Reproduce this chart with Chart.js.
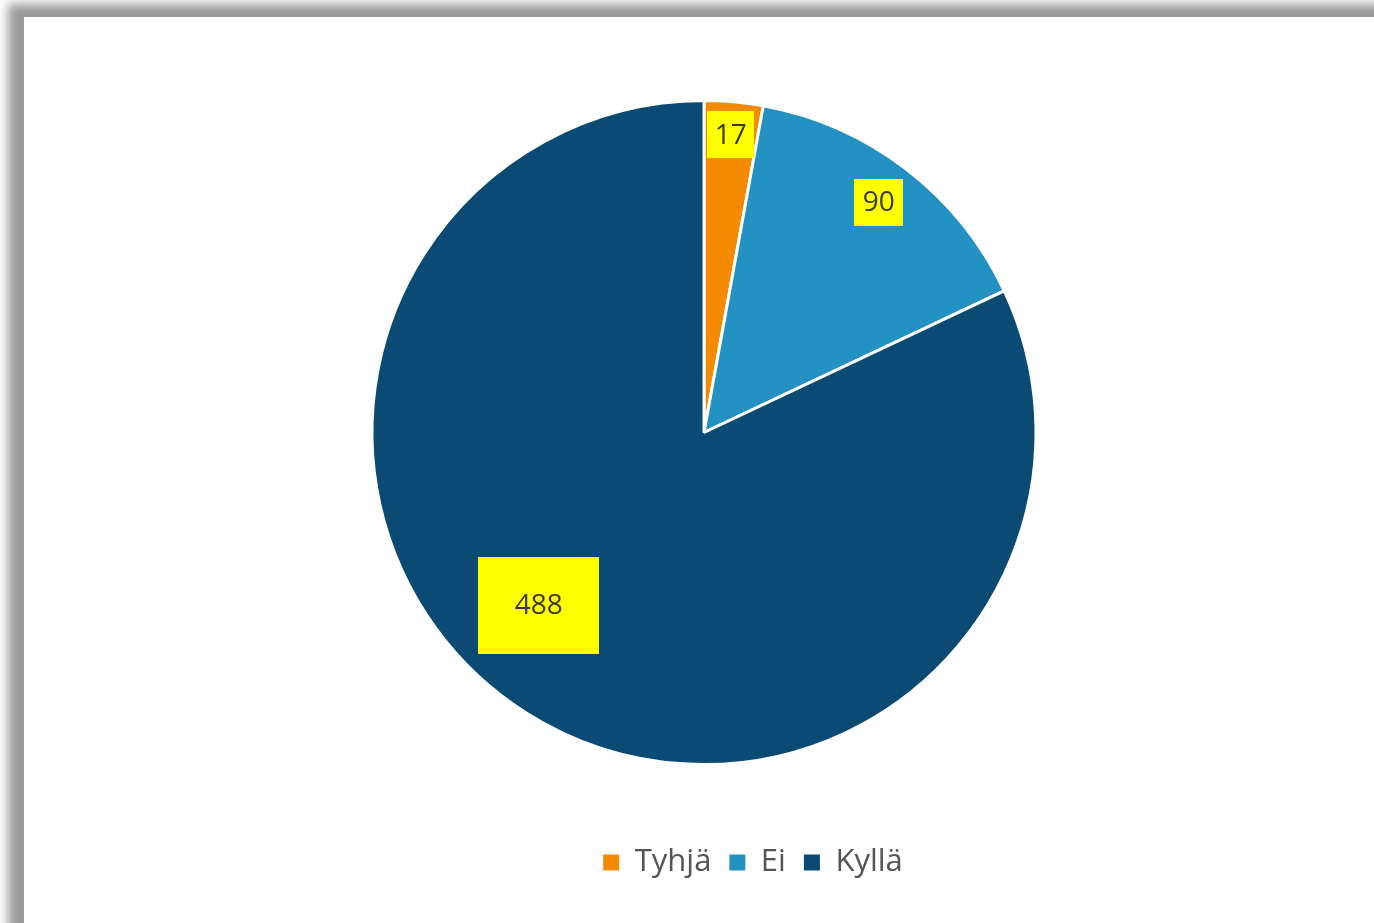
<!DOCTYPE html>
<html>
<head>
<meta charset="utf-8">
<script src="https://cdn.jsdelivr.net/npm/chart.js@4.4.1/dist/chart.umd.min.js"></script>
<style>
  html, body { margin: 0; padding: 0; background: #fff; overflow: hidden; }
  #frame {
    position: absolute; left: 24px; top: 17px; width: 1400px; height: 960px;
    background: #fff;
    box-shadow: -2px 1px 10px 14px #9a9a9a;
  }
  #chart { position: absolute; left: 0; top: 0; }
</style>
</head>
<body>
<div id="frame"></div>
<canvas id="chart" width="1374" height="923"></canvas>
<script>
  // data
  var categories = ['Tyhjä', 'Ei', 'Kyllä'];
  var values = [17, 90, 488];
  var colors = ['#F38A00', '#2392C3', '#0B4B73'];

  // label box look: [width, height], radius fraction, angle nudge (deg)
  var labelBoxes = [[47, 47], [49, 47], [121, 97]];
  var labelRadius = [0.9, 0.87, 0.72];
  var labelNudge = [0, -0.3, 11.4];

  var boxLabels = {
    id: 'boxLabels',
    afterDatasetsDraw: function (chart) {
      var ctx = chart.ctx;
      var meta = chart.getDatasetMeta(0);
      meta.data.forEach(function (arc, i) {
        var a = (arc.startAngle + arc.endAngle) / 2 + labelNudge[i] * Math.PI / 180;
        var r = arc.outerRadius * labelRadius[i];
        var x = arc.x + Math.cos(a) * r;
        var y = arc.y + Math.sin(a) * r;
        var w = labelBoxes[i][0], h = labelBoxes[i][1];
        ctx.save();
        ctx.fillStyle = '#FFFF00';
        ctx.fillRect(Math.round(x - w / 2), Math.round(y - h / 2), w, h);
        ctx.fillStyle = '#3a3a3a';
        ctx.font = '28px "Open Sans"';
        ctx.textAlign = 'center';
        ctx.textBaseline = 'middle';
        ctx.fillText(String(values[i]), x, y + 1);
        ctx.restore();
      });
    }
  };

  // legend sits right of the pie's centre in the original
  var legendShift = {
    id: 'legendShift',
    afterLayout: function (chart) {
      chart.legend.left += 49;
      chart.legend.right += 49;
    }
  };

  new Chart(document.getElementById('chart'), {
    type: 'pie',
    data: {
      labels: categories,
      datasets: [{
        data: values,
        backgroundColor: colors,
        borderColor: '#ffffff',
        borderWidth: 3,
        radius: 332
      }]
    },
    options: {
      responsive: false,
      animation: false,
      layout: { padding: { top: 36, left: 34, right: 0, bottom: 35 } },
      plugins: {
        tooltip: { enabled: false },
        legend: {
          position: 'bottom',
          labels: {
            boxWidth: 16,
            boxHeight: 16,
            padding: 18,
            color: '#555555',
            font: { family: 'Open Sans', size: 31 },
            generateLabels: function (chart) {
              var items = Chart.PieController.overrides.plugins.legend.labels.generateLabels(chart);
              items.forEach(function (it) { it.lineWidth = 0; it.strokeStyle = it.fillStyle; });
              return items;
            }
          }
        }
      }
    },
    plugins: [boxLabels, legendShift]
  });
</script>
</body>
</html>
